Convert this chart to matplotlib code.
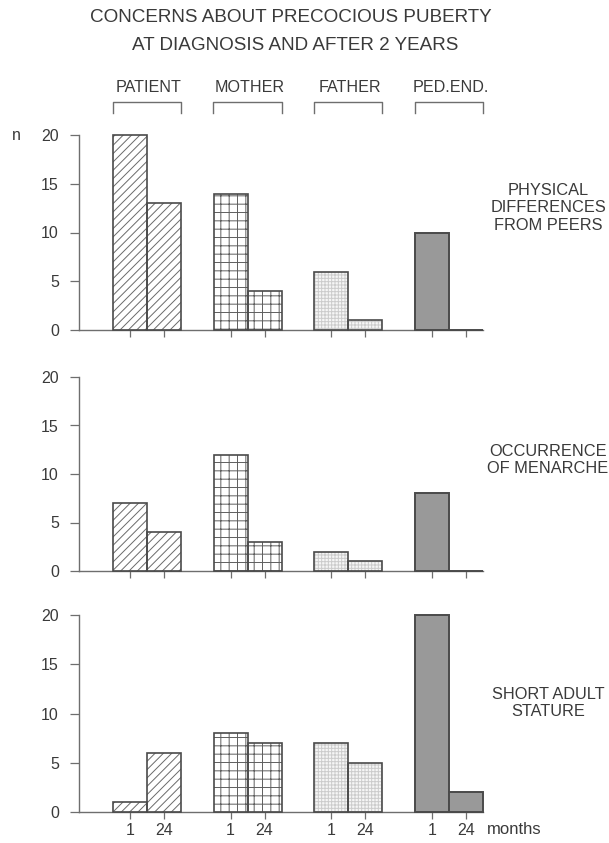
import numpy as np
import matplotlib
matplotlib.use('Agg')
import matplotlib.pyplot as plt
from matplotlib.lines import Line2D
from matplotlib.transforms import blended_transform_factory

plt.rcParams['font.family'] = ['Liberation Sans', 'DejaVu Sans']
plt.rcParams['hatch.linewidth'] = 0.7

# counts per respondent group, at 1 and 24 months
groups = ['PATIENT', 'MOTHER', 'FATHER', 'PED.END.']
physical_1 = [20, 14, 6, 10]
physical_24 = [13, 4, 1, 0]
menarche_1 = [7, 12, 2, 8]
menarche_24 = [4, 3, 1, 0]
stature_1 = [1, 8, 7, 20]
stature_24 = [6, 7, 5, 2]
panel_labels = ['PHYSICAL\nDIFFERENCES\nFROM PEERS',
                'OCCURRENCE\nOF MENARCHE',
                'SHORT ADULT\nSTATURE']
month_labels = ['1', '24']
yticks = [0, 5, 10, 15, 20]

TXT = '#3a3a3a'
LINE = '#6e6e6e'
EDGE = '#4a4a4a'

# fill style per group: (facecolor, hatch, hatch colour)
styles = [('white', '////', '#6a6a6a'),
          ('white', '++', '#5e5e5e'),
          ('#f6f6f6', '+++++', '#cccccc'),
          ('#999999', None, None)]

W, H = 609, 843
fig = plt.figure(figsize=(W / 100, H / 100), dpi=100)

left = 79 / W
width = (483 - 79) / W
# (pixel row of 0, pixel row of 20) for each panel
panel_rows = [(330, 135), (571, 377), (812, 615)]
panels = [(physical_1, physical_24), (menarche_1, menarche_24),
          (stature_1, stature_24)]
label_rows = [208, 460, 703]

bw = 0.338
x = np.arange(len(groups))
axes = []
for k, ((y0, y20), (v1, v24)) in enumerate(zip(panel_rows, panels)):
    ax = fig.add_axes([left, 1 - y0 / H, width, (y0 - y20) / H])
    axes.append(ax)
    for i in range(len(groups)):
        fc, hatch, hc = styles[i]
        for off, val in ((-bw / 2, v1[i]), (bw / 2, v24[i])):
            if hatch:
                ax.bar(x[i] + off, val, bw, color=fc, edgecolor=hc, hatch=hatch,
                       linewidth=0, clip_on=False, zorder=2)
                ax.bar(x[i] + off, val, bw, fill=False, edgecolor=EDGE,
                       linewidth=1.2, clip_on=False, zorder=3)
            else:
                ax.bar(x[i] + off, val, bw, color=fc, edgecolor=EDGE,
                       linewidth=1.4, clip_on=False, zorder=3)
    ax.set_xlim(-0.675, 3.34)
    ax.set_ylim(0, 20)
    for s in ('top', 'right'):
        ax.spines[s].set_visible(False)
    for s in ('left', 'bottom'):
        ax.spines[s].set_color(LINE)
        ax.spines[s].set_linewidth(1.0)
    ax.set_yticks(yticks)
    ax.tick_params(axis='y', direction='out', length=6.5, width=0.9,
                   color=LINE, pad=8, labelsize=11.5, labelcolor=TXT)
    ax.set_xticks(np.ravel(np.column_stack([x - bw / 2, x + bw / 2])))
    ax.tick_params(axis='x', direction='out', length=5, width=0.9,
                   color=LINE, pad=3, labelsize=11.5, labelcolor=TXT)
    if k == 2:
        ax.set_xticklabels(month_labels * len(groups))
    else:
        ax.set_xticklabels([])
    fig.text(548 / W, 1 - label_rows[k] / H, panel_labels[k], ha='center',
             va='center', fontsize=11.8, color=TXT, linespacing=1.2)

fig.text(16 / W, 1 - 135 / H, 'n', ha='center', va='center', fontsize=11.5,
         color=TXT)
fig.text(487 / W, 1 - 829 / H, 'months', ha='left', va='center',
         fontsize=12, color=TXT)

fig.text(291 / W, 1 - 18 / H, 'CONCERNS ABOUT PRECOCIOUS PUBERTY',
         ha='center', va='center', fontsize=13.6, color=TXT)
fig.text(295 / W, 1 - 45 / H, 'AT DIAGNOSIS AND AFTER 2 YEARS',
         ha='center', va='center', fontsize=13.6, color=TXT)

# group headers with brackets above the top panel
tr = blended_transform_factory(axes[0].transData, fig.transFigure)
for i, g in enumerate(groups):
    fig.text(x[i] + 0.02, 1 - 88 / H, g, ha='center', va='center',
             fontsize=11.6, color=TXT, transform=tr)
    xs = [x[i] - 0.34, x[i] - 0.34, x[i] + 0.34, x[i] + 0.34]
    ys = [1 - 113 / H, 1 - 102 / H, 1 - 102 / H, 1 - 113 / H]
    fig.add_artist(Line2D(xs, ys, transform=tr, color=LINE, linewidth=1.0))

fig.savefig('out.png', dpi=100, facecolor='white')
